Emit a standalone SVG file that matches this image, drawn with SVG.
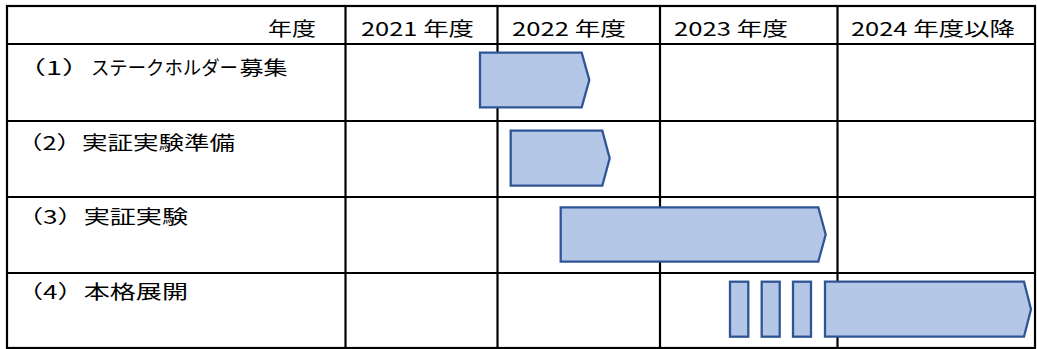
<svg xmlns="http://www.w3.org/2000/svg" width="1037" height="349" viewBox="0 0 1037 349">
<style>
.grid{stroke:#000;stroke-width:2.2;fill:none}
.t{font-family:"Noto Sans CJK JP","Liberation Sans",sans-serif;font-size:19px;fill:#000}
.bar{fill:#B4C7E7;stroke:#2F5597;stroke-width:2.3;stroke-linejoin:miter}
</style>
<rect width="1037" height="349" fill="#fff"/>
<g id="table">
<rect class="grid" x="7" y="6" width="1028" height="342"/>
<line class="grid" x1="7" y1="44" x2="1035" y2="44"/>
<line class="grid" x1="7" y1="121" x2="1035" y2="121"/>
<line class="grid" x1="7" y1="197" x2="1035" y2="197"/>
<line class="grid" x1="7" y1="273" x2="1035" y2="273"/>
<line class="grid" x1="345.5" y1="6" x2="345.5" y2="348"/>
<line class="grid" x1="497.5" y1="6" x2="497.5" y2="348"/>
<line class="grid" x1="660" y1="6" x2="660" y2="348"/>
<line class="grid" x1="837.5" y1="6" x2="837.5" y2="348"/>
</g>
<g id="header">
<text class="t" x="268" y="36" textLength="48" lengthAdjust="spacingAndGlyphs">年度</text>
<text class="t" x="361" y="36" textLength="113" lengthAdjust="spacingAndGlyphs">2021 年度</text>
<text class="t" x="512" y="36" textLength="114" lengthAdjust="spacingAndGlyphs">2022 年度</text>
<text class="t" x="674" y="36" textLength="114" lengthAdjust="spacingAndGlyphs">2023 年度</text>
<text class="t" x="851" y="36" textLength="164" lengthAdjust="spacingAndGlyphs">2024 年度以降</text>
</g>
<g id="task1">
<text class="t" y="74.5"><tspan x="17" textLength="74" lengthAdjust="spacingAndGlyphs">（1）</tspan><tspan x="91" textLength="147" lengthAdjust="spacingAndGlyphs">ステークホルダー</tspan><tspan x="239.5" textLength="48" lengthAdjust="spacingAndGlyphs">募集</tspan></text>
<polygon class="bar" points="480,52.7 581.7,52.7 589.3,80 581.7,107.3 480,107.3"/>
</g>
<g id="task2">
<text class="t" x="17" y="150" textLength="218" lengthAdjust="spacingAndGlyphs">（2）実証実験準備</text>
<polygon class="bar" points="510.7,130.7 602.3,130.7 609.7,158.2 602.3,185.7 510.7,185.7"/>
</g>
<g id="task3">
<text class="t" x="17" y="223.5" textLength="171" lengthAdjust="spacingAndGlyphs">（3）実証実験</text>
<polygon class="bar" points="560.7,207.3 818.3,207.3 825.7,234.5 818.3,261.7 560.7,261.7"/>
</g>
<g id="task4">
<text class="t" x="17" y="299" textLength="171" lengthAdjust="spacingAndGlyphs">（4）本格展開</text>
<rect class="bar" x="730" y="281.7" width="18.3" height="55"/>
<rect class="bar" x="761.7" y="281.7" width="18" height="55"/>
<rect class="bar" x="793" y="281.7" width="18" height="55"/>
<polygon class="bar" points="825,281.7 1024,281.7 1031,309.2 1024,336.7 825,336.7"/>
</g>
</svg>
